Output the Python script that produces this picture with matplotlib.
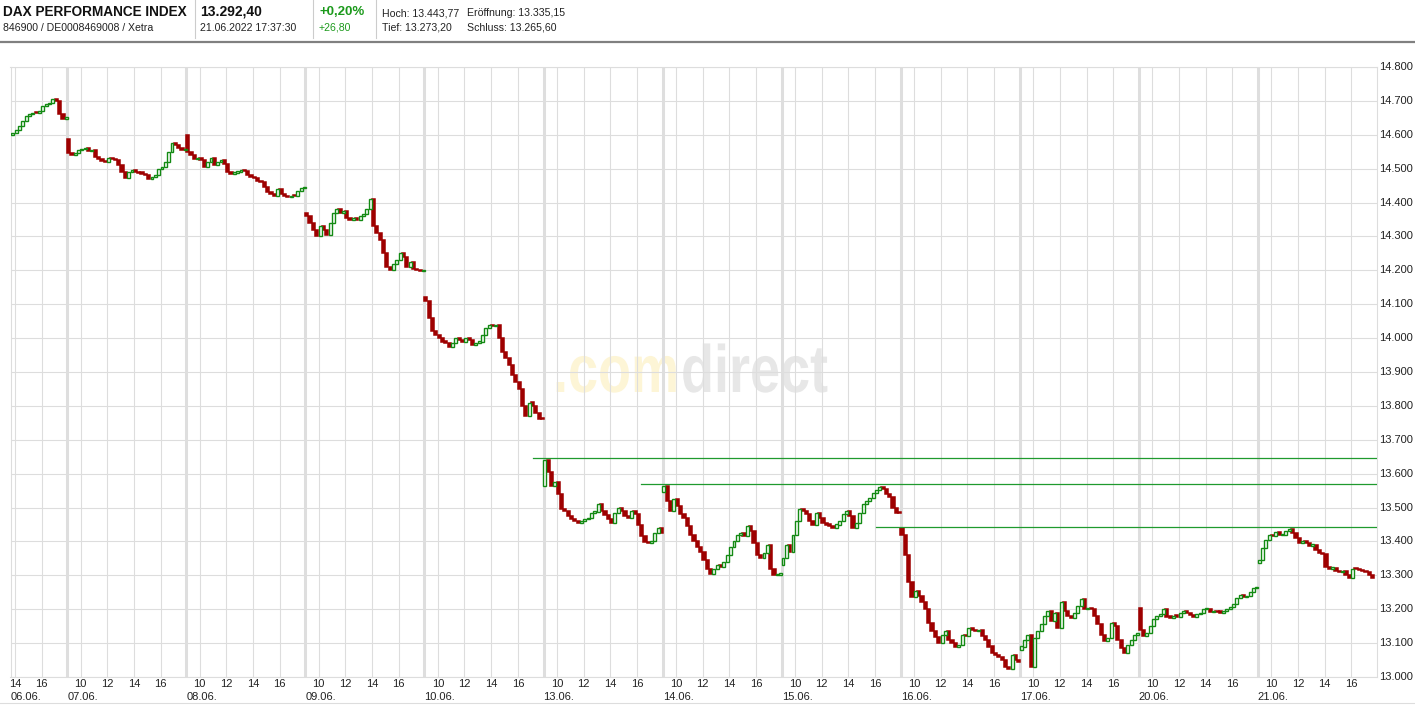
import matplotlib
matplotlib.use('Agg')
import matplotlib.pyplot as plt
from matplotlib.lines import Line2D
from matplotlib.textpath import TextPath
from matplotlib.patches import PathPatch
from matplotlib.font_manager import FontProperties
from matplotlib.transforms import Affine2D, IdentityTransform

plt.rcParams['font.family'] = ['Liberation Sans', 'DejaVu Sans']

# ---- data: 15-minute closes per trading day (Xetra, DAX) ----
day_labels = ['06.06.', '07.06.', '08.06.', '09.06.', '10.06.', '13.06.',
              '14.06.', '15.06.', '16.06.', '17.06.', '20.06.', '21.06.']
day_first_slot = [19, 0, 0, 0, 0, 0, 0, 0, 0, 0, 0, 0]
day_open = [14598, 14588, 14600, 14370, 14120, 13565,
            13545, 13330, 13440, 13080, 13205, 13335]

c0606 = [14605, 14615, 14625, 14640, 14655, 14660, 14665, 14663, 14670, 14685,
         14690, 14695, 14705, 14700, 14660, 14648, 14652]
c0706 = [14545, 14540, 14545, 14555, 14558, 14560, 14552, 14555, 14535, 14528,
         14522, 14520, 14530, 14528, 14526, 14510, 14490, 14472, 14490, 14495,
         14490, 14487, 14485, 14480, 14470, 14475, 14481, 14500, 14505, 14520,
         14550, 14575, 14570, 14562, 14555, 14556]
c0806 = [14550, 14540, 14528, 14530, 14525, 14505, 14520, 14530, 14512, 14520,
         14525, 14515, 14490, 14485, 14488, 14490, 14495, 14492, 14480, 14475,
         14472, 14465, 14460, 14445, 14430, 14425, 14420, 14440, 14425, 14418,
         14415, 14420, 14418, 14435, 14442, 14442]
c0906 = [14360, 14340, 14320, 14300, 14330, 14320, 14305, 14340, 14370, 14380,
         14370, 14375, 14355, 14350, 14355, 14350, 14360, 14365, 14380, 14410,
         14330, 14310, 14290, 14250, 14210, 14200, 14220, 14230, 14250, 14240,
         14210, 14225, 14205, 14200, 14198, 14198]
c1006 = [14110, 14060, 14020, 14010, 14000, 13990, 13985, 13975, 13985, 14000,
         13995, 13990, 14000, 13995, 13980, 13985, 13990, 14010, 14030, 14040,
         14035, 14040, 14000, 13960, 13940, 13920, 13890, 13870, 13850, 13800,
         13770, 13810, 13800, 13780, 13762, 13760]
c1306 = [13640, 13605, 13565, 13575, 13540, 13495, 13490, 13475, 13465, 13460,
         13455, 13460, 13465, 13470, 13485, 13488, 13510, 13490, 13478, 13465,
         13455, 13485, 13500, 13490, 13475, 13470, 13490, 13480, 13450, 13415,
         13398, 13395, 13400, 13425, 13440, 13425]
c1406 = [13565, 13520, 13490, 13525, 13505, 13480, 13470, 13445, 13420, 13400,
         13385, 13370, 13345, 13320, 13305, 13320, 13330, 13325, 13340, 13360,
         13385, 13400, 13420, 13425, 13415, 13445, 13430, 13395, 13360, 13350,
         13365, 13390, 13320, 13300, 13302, 13302]
c1506 = [13350, 13390, 13370, 13420, 13460, 13495, 13490, 13480, 13460, 13450,
         13485, 13470, 13455, 13450, 13445, 13440, 13450, 13460, 13480, 13490,
         13475, 13440, 13455, 13485, 13510, 13520, 13528, 13543, 13552, 13560,
         13555, 13540, 13530, 13500, 13485, 13483]
c1606 = [13420, 13360, 13280, 13235, 13255, 13240, 13220, 13200, 13160, 13135,
         13118, 13100, 13125, 13135, 13110, 13100, 13090, 13095, 13125, 13120,
         13145, 13140, 13135, 13140, 13120, 13110, 13090, 13072, 13065, 13060,
         13050, 13030, 13025, 13065, 13050, 13045]
c1706 = [13090, 13110, 13125, 13030, 13115, 13135, 13155, 13180, 13195, 13165,
         13190, 13145, 13220, 13195, 13180, 13175, 13190, 13210, 13230, 13200,
         13205, 13200, 13180, 13155, 13125, 13105, 13115, 13160, 13150, 13110,
         13085, 13072, 13095, 13110, 13125, 13128]
c2006 = [13140, 13120, 13130, 13150, 13170, 13180, 13185, 13200, 13178, 13175,
         13180, 13178, 13188, 13195, 13190, 13182, 13178, 13185, 13188, 13200,
         13202, 13192, 13195, 13192, 13190, 13195, 13200, 13208, 13215, 13232,
         13242, 13235, 13240, 13250, 13262, 13265]
c2106 = [13345, 13380, 13405, 13420, 13415, 13428, 13418, 13420, 13432, 13438,
         13425, 13410, 13395, 13400, 13395, 13388, 13390, 13375, 13366, 13362,
         13325, 13320, 13322, 13312, 13310, 13312, 13300, 13292, 13320, 13318,
         13315, 13312, 13310, 13300, 13292]
closes = [c0606, c0706, c0806, c0906, c1006, c1306,
          c1406, c1506, c1606, c1706, c2006, c2106]

hour_ticks = [10, 12, 14, 16]
y_ticks = list(range(13000, 14801, 100))

# horizontal marker lines: level, day it starts on, clock hour
level_values = [13645, 13570, 13443]
level_from = [(4, 17.1), (5, 16.3), (7, 16.1)]

header_left = ['DAX PERFORMANCE INDEX', '846900 / DE0008469008 / Xetra']
header_price = ['13.292,40', '21.06.2022 17:37:30']
header_change = ['+0,20%', '+26,80']
header_stats = [['Hoch: 13.443,77', 'Eröffnung: 13.335,15'],
                ['Tief: 13.273,20', 'Schluss: 13.265,60']]

# ---- layout ----
W, H = 1415, 705
DAY = 8.925          # width of one trading day on the time axis (hours)
GRID = '#dddddd'
RED = '#9e0000'
GREEN = '#138a13'
LINE_GREEN = '#1f9a2e'


def xpos(d, hour):
    return d * DAY + (hour - 9)


fig = plt.figure(figsize=(W / 100, H / 100), dpi=100)
ax = fig.add_axes([10.5 / W, (H - 677) / H, (1377 - 10.5) / W, 610 / H])
ax.set_xlim(xpos(0, 13.67), 12 * DAY)
ax.set_ylim(13000, 14800)
ax.set_xticks([])
ax.set_yticks([])
for s in ax.spines.values():
    s.set_color(GRID)
    s.set_linewidth(0.8)

# grid
for y in y_ticks:
    ax.axhline(y, color=GRID, lw=0.8, zorder=1)
for d in range(len(day_labels)):
    for h in hour_ticks:
        x = xpos(d, h)
        if x > ax.get_xlim()[0]:
            ax.axvline(x, color=GRID, lw=0.8, zorder=1)
    if d > 0:
        ax.axvline(d * DAY, color='#dedede', lw=2.2, zorder=1)

# watermark
fp = FontProperties(family='Liberation Sans', weight='bold')
for txt, x0, col in [('.com', 553, '#fdf5d6'), ('direct', 681, '#e7e7e7')]:
    tp = TextPath((0, 0), txt, size=1, prop=fp)
    tr = Affine2D().scale(54, 67).translate(x0, H - 392) + IdentityTransform()
    ax.add_patch(PathPatch(tp, transform=tr, facecolor=col, edgecolor='none', zorder=0.5))

# candles
up_x, up_b, up_h = [], [], []
dn_x, dn_b, dn_h = [], [], []
for d, cl in enumerate(closes):
    prev = day_open[d]
    for i, c in enumerate(cl):
        x = d * DAY + 0.25 * (day_first_slot[d] + i) + 0.1
        lo, hi = min(prev, c), max(prev, c)
        if c >= prev:
            up_x.append(x); up_b.append(lo); up_h.append(max(hi - lo, 4))
        else:
            dn_x.append(x); dn_b.append(lo); dn_h.append(max(hi - lo, 4))
        prev = c
ax.bar(dn_x, dn_h, width=0.24, bottom=dn_b, color=RED, edgecolor=RED, lw=1.1, zorder=3)
ax.bar(up_x, up_h, width=0.22, bottom=up_b, color='white', edgecolor=GREEN, lw=1.0, zorder=3)

# level lines
for v, (d, h) in zip(level_values, level_from):
    ax.plot([xpos(d, h), 12 * DAY], [v, v], color=LINE_GREEN, lw=0.9, zorder=4)

# y labels (right)
for y in y_ticks:
    ax.text(1.0018, y, f'{y // 1000}.{y % 1000:03d}', transform=ax.get_yaxis_transform(),
            ha='left', va='center', fontsize=8, color='#222222')

# x labels
xa = ax.get_xaxis_transform()
for d, lab in enumerate(day_labels):
    for h in hour_ticks:
        x = xpos(d, h)
        if x > ax.get_xlim()[0]:
            ax.text(x, -0.0115, str(h), transform=xa, ha='center', va='center',
                    fontsize=8, color='#222222')
    ax.text(max(d * DAY, ax.get_xlim()[0]), -0.0328, lab, transform=xa,
            ha='left', va='center', fontsize=8, color='#222222')

# header


def ftext(x, y, s, **kw):
    fig.text(x / W, 1 - y / H, s, va='center', ha='left', **kw)


def fline(x0, y0, x1, y1, **kw):
    fig.add_artist(Line2D([x0 / W, x1 / W], [1 - y0 / H, 1 - y1 / H], **kw))


ftext(3, 12, header_left[0], fontsize=9.8, weight='bold', color='#111111')
ftext(3, 28, header_left[1], fontsize=7.6, color='#222222')
ftext(200, 12, header_price[0], fontsize=10, weight='bold', color='#111111')
ftext(200, 28, header_price[1], fontsize=7.6, color='#222222')
ftext(319, 12, header_change[0], fontsize=9.5, weight='bold', color='#1c9a1c')
ftext(319, 28, header_change[1], fontsize=7.6, color='#1c9a1c')
for r, row in enumerate(header_stats):
    ftext(382, 13 + 15 * r, row[0], fontsize=7.6, color='#222222')
    ftext(467, 13 + 15 * r, row[1], fontsize=7.6, color='#222222')
for xs in [195, 313, 376]:
    fline(xs, 0, xs, 38, color='#cccccc', lw=0.8)
fline(0, 41.5, W, 41.5, color='#808080', lw=1.6)
fline(0, 703, W, 703, color=GRID, lw=0.8)

fig.savefig('out.png', dpi=100)
